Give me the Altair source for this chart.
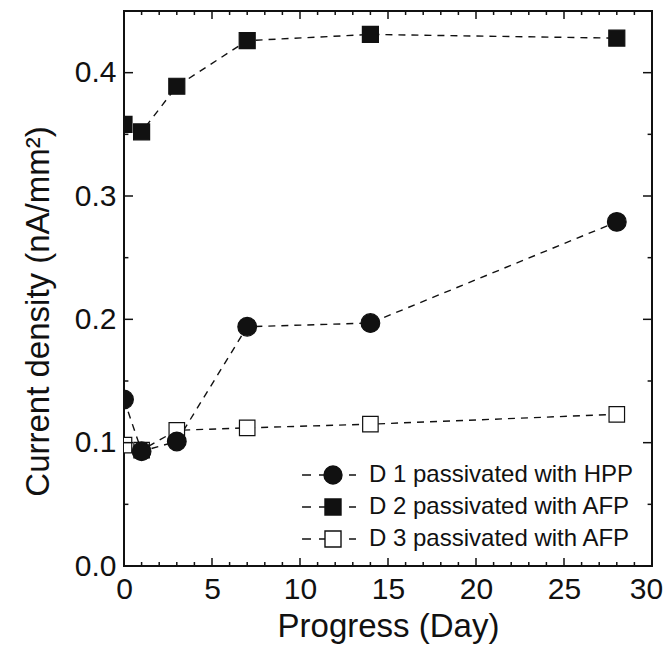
import altair as alt
import pandas as pd

days = [0, 1, 3, 7, 14, 28]
d1 = [0.135, 0.093, 0.101, 0.194, 0.197, 0.279]
d2 = [0.358, 0.352, 0.389, 0.426, 0.431, 0.428]
d3 = [0.098, 0.094, 0.110, 0.112, 0.115, 0.123]
labels = ["D 1 passivated with HPP", "D 2 passivated with AFP", "D 3 passivated with AFP"]
x_major = [0, 5, 10, 15, 20, 25, 30]
x_minor = [v for v in range(0, 31) if v % 5 != 0]
y_major = [0.0, 0.1, 0.2, 0.3, 0.4]
y_minor = [0.05, 0.15, 0.25, 0.35]

rows = []
for lab, vals in [(labels[2], d3), (labels[1], d2), (labels[0], d1)]:
    for d, v in zip(days, vals):
        rows.append({"series": lab, "day": d, "value": v})
df = pd.DataFrame(rows)

W, H = 528, 555
FONT = "Liberation Sans"
XSC = alt.Scale(domain=[0, 30], nice=False, zero=False)
YSC = alt.Scale(domain=[0, 0.45], nice=False)

xs_main = alt.X("day:Q", scale=XSC,
                axis=alt.Axis(values=x_major, format="d", title="Progress (Day)", ticks=False,
                              domain=False, grid=False, labelPadding=8, titlePadding=6,
                              labelFlush=False, orient="bottom",
                              labelOffset={"condition": {"test": "datum.value == 30", "value": -6}, "value": 0}))
ys_main = alt.Y("value:Q", scale=YSC,
                axis=alt.Axis(values=y_major, format=".1f", title="Current density (nA/mm²)",
                              ticks=False, domain=False, grid=False, labelPadding=8,
                              titlePadding=19, labelFlush=False, titleY=300, orient="left"))
xs_none = alt.X("day:Q", scale=XSC, axis=None)
ys_none = alt.Y("value:Q", scale=YSC, axis=None)

lines = alt.Chart(df).mark_line(color="#111", strokeWidth=1.4, strokeDash=[7, 6], clip=True).encode(
    x=xs_none, y=ys_none, detail="series:N")

points = alt.Chart(df).mark_point(filled=True, stroke="#111", strokeWidth=1.2, opacity=1, clip=True).encode(
    x=xs_main, y=ys_main,
    shape=alt.Shape("series:N", scale=alt.Scale(domain=labels, range=["circle", "square", "square"]), legend=None),
    fill=alt.Fill("series:N", scale=alt.Scale(domain=labels, range=["#111", "#111", "white"]), legend=None),
    size=alt.Size("series:N", scale=alt.Scale(type="ordinal", domain=labels, range=[350, 256, 240]), legend=None),
)

circ_path = "M-3.44,0L-2.44,0M-1.56,0L-1,0M1,0A1,1,0,1,1,-1,0A1,1,0,1,1,1,0ZM1.78,0L2.56,0"
sq_path = "M-3.44,0L-2.44,0M-1.56,0L-0.89,0M-0.89,-0.89L0.89,-0.89L0.89,0.89L-0.89,0.89ZM1.78,0L2.56,0"
leg = alt.Legend(title=None, orient="none", legendX=197, legendY=452, symbolSize=324,
                 symbolStrokeWidth=1.4, symbolStrokeColor="#111", symbolOpacity=1,
                 labelFont=FONT, labelFontSize=24, labelColor="#111", labelOffset=24,
                 labelLimit=0, rowPadding=8, padding=0)
legend_layer = alt.Chart(df).transform_filter("false").mark_point(filled=True, opacity=1, strokeWidth=1.4).encode(
    x=xs_none, y=ys_none,
    shape=alt.Shape("series:N", scale=alt.Scale(domain=labels, range=[circ_path, sq_path, sq_path]), legend=leg),
    fill=alt.Fill("series:N", scale=alt.Scale(domain=labels, range=["#111", "#111", "white"]), legend=leg),
    stroke=alt.Stroke("series:N", scale=alt.Scale(domain=labels, range=["#111", "#111", "#111"]), legend=leg),
)

# inward frame ticks drawn as stroked custom symbols (size 64 -> 4 px per path unit)
def tick_layer(vals, along, edge_value, path):
    data = alt.Data(values=[{"t": v} for v in vals])
    base = alt.Chart(data).mark_point(shape=path, size=64, filled=False, color="#111",
                                      strokeWidth=1.5, opacity=1)
    if along == "x":
        return base.encode(x=alt.X("t:Q", scale=XSC, axis=None),
                           y=alt.Y(datum=edge_value, scale=YSC, axis=None))
    return base.encode(y=alt.Y("t:Q", scale=YSC, axis=None),
                       x=alt.X(datum=edge_value, scale=XSC, axis=None))

ticks = [
    tick_layer(x_major, "x", 0.0, "M0,0L0,-2"),
    tick_layer(x_major, "x", 0.45, "M0,0L0,2"),
    tick_layer(x_minor, "x", 0.0, "M0,0L0,-1"),
    tick_layer(x_minor, "x", 0.45, "M0,0L0,1"),
    tick_layer(y_major, "y", 0, "M0,0L2.25,0"),
    tick_layer(y_major, "y", 30, "M0,0L-2.25,0"),
    tick_layer(y_minor, "y", 0, "M0,0L1.1,0"),
    tick_layer(y_minor, "y", 30, "M0,0L-1.1,0"),
]

chart = alt.layer(lines, points, legend_layer, *ticks).resolve_scale(
    shape="independent", fill="independent", size="independent", stroke="independent"
).resolve_axis(x="independent", y="independent").properties(
    width=W, height=H,
    background="white",
    autosize=alt.AutoSizeParams(type="none"),
    padding={"left": 116, "top": 3, "right": 11, "bottom": 80},
).configure_view(stroke="#111", strokeWidth=2).configure_axis(
    labelFont=FONT, labelFontSize=30, labelColor="#111",
    titleFont=FONT, titleFontSize=33, titleColor="#111", titleFontWeight="normal",
)

chart.save("out.html", embed_options={"renderer": "svg", "actions": False})
